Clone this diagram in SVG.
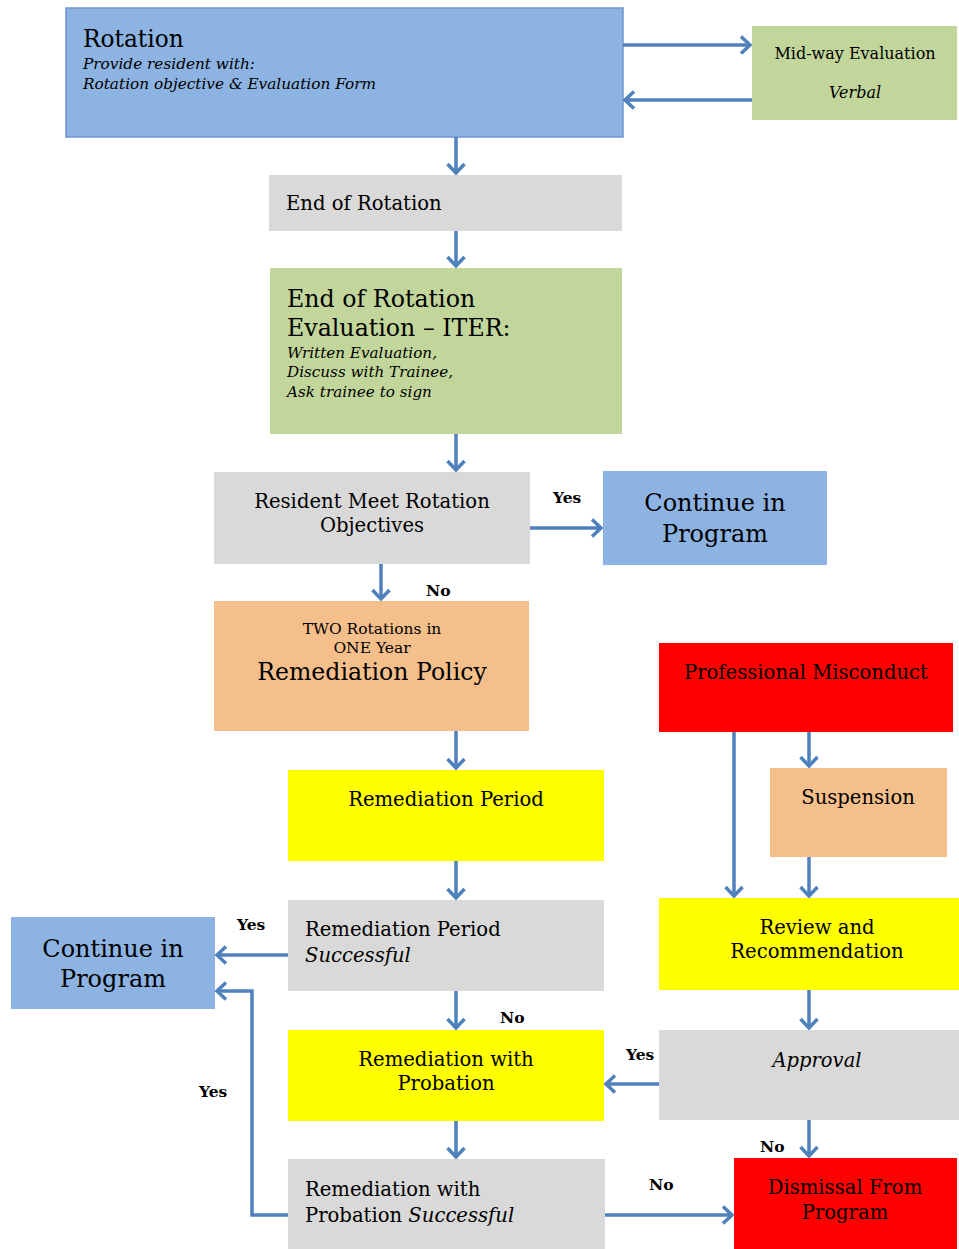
<svg xmlns="http://www.w3.org/2000/svg" width="959" height="1249" viewBox="0 0 959 1249">
<style>
text{font-family:"DejaVu Serif","Liberation Serif",serif;fill:#000}
.c{text-anchor:middle}
.i{font-style:italic}
.m{font-size:19.6px}
.lbl{font-weight:bold;font-size:15.5px}
.blue{fill:#8db3e2}
.green{fill:#c2d69b}
.grey{fill:#d9d9d9}
.peach{fill:#f5bf8b}
.yellow{fill:#ffff00}
.red{fill:#ff0000}
.conn path{fill:none;stroke:#4f81bd;stroke-width:3.5;marker-end:url(#ah)}
</style>
<defs>
<marker id="ah" markerUnits="userSpaceOnUse" markerWidth="24" markerHeight="24" refX="12" refY="12" orient="auto" viewBox="0 0 24 24">
<path d="M3,3.5 L12,12 L3,20.5" fill="none" stroke="#4f81bd" stroke-width="3.5"/>
</marker>
</defs>
<rect width="959" height="1249" fill="#fff"/>

<g id="rotation">
<rect x="66" y="8" width="557" height="129" class="blue" stroke="#6f96d0" stroke-width="1.5"/>
<text x="83" y="47" font-size="23.3">Rotation</text>
<text x="83" y="69" font-size="15.3" class="i">Provide resident with:</text>
<text x="83" y="89" font-size="15.3" class="i">Rotation objective &amp; Evaluation Form</text>
</g>
<g id="midway">
<rect x="752" y="26" width="205" height="94" class="green"/>
<text x="855" y="59" font-size="16" class="c">Mid-way Evaluation</text>
<text x="855" y="98" font-size="16" class="c i">Verbal</text>
</g>
<g id="end-rotation">
<rect x="269" y="175" width="353" height="56" class="grey"/>
<text x="286" y="210" class="m">End of Rotation</text>
</g>
<g id="iter">
<rect x="270" y="268" width="352" height="166" class="green"/>
<text x="287" y="307" font-size="23.7">End of Rotation</text>
<text x="287" y="336" font-size="23.7">Evaluation – ITER:</text>
<text x="287" y="358" font-size="15.2" class="i">Written Evaluation,</text>
<text x="287" y="377" font-size="15.2" class="i">Discuss with Trainee,</text>
<text x="287" y="397" font-size="15.2" class="i">Ask trainee to sign</text>
</g>
<g id="meet-objectives">
<rect x="214" y="472" width="316" height="92" class="grey"/>
<text x="372" y="508" class="c m">Resident Meet Rotation</text>
<text x="372" y="532" class="c m">Objectives</text>
</g>
<g id="continue-1">
<rect x="603" y="471" width="224" height="94" class="blue"/>
<text x="715" y="511" font-size="24" class="c">Continue in</text>
<text x="715" y="542" font-size="24" class="c">Program</text>
</g>
<g id="remediation-policy">
<rect x="214" y="601" width="315" height="130" class="peach"/>
<text x="372" y="634" font-size="15.5" class="c">TWO Rotations in</text>
<text x="372" y="653" font-size="15.5" class="c">ONE Year</text>
<text x="372" y="680" font-size="23.6" class="c">Remediation Policy</text>
</g>
<g id="remediation-period">
<rect x="288" y="770" width="316" height="91" class="yellow"/>
<text x="446" y="806" class="c m">Remediation Period</text>
</g>
<g id="remediation-successful">
<rect x="288" y="900" width="316" height="91" class="grey"/>
<text x="305" y="936" class="m">Remediation Period</text>
<text x="305" y="962" class="m i">Successful</text>
</g>
<g id="continue-2">
<rect x="11" y="917" width="204" height="92" class="blue"/>
<text x="113" y="957" font-size="24" class="c">Continue in</text>
<text x="113" y="987" font-size="24" class="c">Program</text>
</g>
<g id="remediation-probation">
<rect x="288" y="1030" width="316" height="91" class="yellow"/>
<text x="446" y="1066" class="c m">Remediation with</text>
<text x="446" y="1090" class="c m">Probation</text>
</g>
<g id="probation-successful">
<rect x="288" y="1159" width="317" height="90" class="grey"/>
<text x="305" y="1196" class="m">Remediation with</text>
<text x="305" y="1222" class="m">Probation <tspan class="i">Successful</tspan></text>
</g>
<g id="misconduct">
<rect x="659" y="643" width="294" height="89" class="red"/>
<text x="806" y="679" class="c m">Professional Misconduct</text>
</g>
<g id="suspension">
<rect x="770" y="768" width="177" height="89" class="peach"/>
<text x="858" y="804" class="c m">Suspension</text>
</g>
<g id="review">
<rect x="659" y="898" width="300" height="92" class="yellow"/>
<text x="817" y="934" class="c m">Review and</text>
<text x="817" y="958" class="c m">Recommendation</text>
</g>
<g id="approval">
<rect x="659" y="1030" width="300" height="90" class="grey"/>
<text x="817" y="1067" font-size="19.5" class="c i">Approval</text>
</g>
<g id="dismissal">
<rect x="734" y="1158" width="223" height="91" class="red"/>
<text x="845" y="1194" class="c m">Dismissal From</text>
<text x="845" y="1219" class="c m">Program</text>
</g>

<g class="conn" id="connectors">
<path d="M623,45 H750"/>
<path d="M752,100 H625"/>
<path d="M456,137 V173"/>
<path d="M456,231 V266"/>
<path d="M456,434 V470"/>
<path d="M530,528 H601"/>
<path d="M381,564 V599"/>
<path d="M456,731 V768"/>
<path d="M456,861 V898"/>
<path d="M288,955 H217"/>
<path d="M456,991 V1028"/>
<path d="M456,1121 V1157"/>
<path d="M288,1215 H252 V991 H217"/>
<path d="M605,1215 H732"/>
<path d="M809,732 V766"/>
<path d="M734,732 V896"/>
<path d="M809,857 V896"/>
<path d="M809,990 V1028"/>
<path d="M659,1084 H606"/>
<path d="M809,1120 V1156"/>
</g>
<g id="labels">
<text x="553" y="503" class="lbl">Yes</text>
<text x="426" y="596" class="lbl">No</text>
<text x="237" y="930" class="lbl">Yes</text>
<text x="500" y="1023" class="lbl">No</text>
<text x="199" y="1097" class="lbl">Yes</text>
<text x="626" y="1060" class="lbl">Yes</text>
<text x="649" y="1190" class="lbl">No</text>
<text x="760" y="1152" class="lbl">No</text>
</g>
</svg>
